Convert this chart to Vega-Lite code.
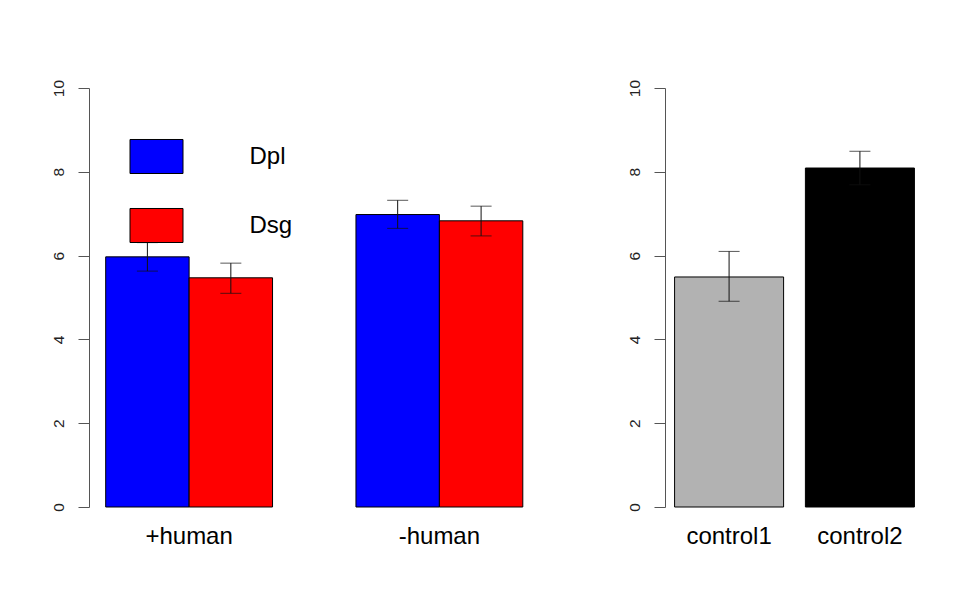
{
  "$schema": "https://vega.github.io/schema/vega-lite/v6.json",
  "background": "white",
  "padding": {"left": 51, "top": 79, "right": 10, "bottom": 10},
  "config": {
    "view": {"stroke": null},
    "font": "Liberation Sans",
    "axis": {"grid": false}
  },
  "spacing": 87,
  "resolve": {"scale": {"color": "independent", "x": "independent", "xOffset": "independent"}},
  "hconcat": [
    {
      "width": 450.5,
      "height": 419,
      "data": {"values": [
        {"group": "+human", "series": "Dpl", "mean": 5.97, "lo": 5.63, "hi": 6.31},
        {"group": "+human", "series": "Dsg", "mean": 5.47, "lo": 5.1, "hi": 5.82},
        {"group": "-human", "series": "Dpl", "mean": 6.98, "lo": 6.65, "hi": 7.32},
        {"group": "-human", "series": "Dsg", "mean": 6.83, "lo": 6.47, "hi": 7.18}
      ]},
      "encoding": {
        "x": {"field": "group", "type": "nominal", "sort": ["+human", "-human"],
          "scale": {"paddingInner": 0.3333, "paddingOuter": 0.0667},
          "axis": {"title": null, "labelAngle": 0, "domain": false, "ticks": false, "labelFontSize": 24, "labelColor": "black", "labelPadding": 17}},
        "xOffset": {"field": "series", "type": "nominal", "sort": ["Dpl", "Dsg"]}
      },
      "layer": [
        {
          "mark": {"type": "bar", "stroke": "black", "strokeWidth": 1},
          "encoding": {
            "y": {"field": "mean", "type": "quantitative", "scale": {"domain": [0, 10]},
              "axis": {"title": null, "values": [0, 2, 4, 6, 8, 10], "tickSize": 11, "tickColor": "#555", "domainColor": "#555",
                "labelAngle": -90, "labelAlign": "center", "labelBaseline": "bottom", "labelPadding": 12, "labelFontSize": 15.5, "labelColor": "#222"}},
            "color": {"field": "series", "type": "nominal", "sort": ["Dpl", "Dsg"],
              "scale": {"range": ["#0000ff", "#ff0000"]},
              "legend": {"title": null, "orient": "none", "legendX": 40.5, "legendY": 41.5,
                "symbolType": "M-1,-0.642H1V0.642H-1Z", "symbolSize": 2809,
                "symbolStrokeColor": "black", "symbolStrokeWidth": 1, "symbolOpacity": 1,
                "labelFontSize": 24, "labelColor": "black", "labelOffset": 66, "rowPadding": 22}}
          }
        },
        {
          "mark": {"type": "rule", "color": "#111", "strokeWidth": 1},
          "encoding": {
            "y": {"field": "lo", "type": "quantitative"},
            "y2": {"field": "hi"}
          }
        },
        {
          "mark": {"type": "tick", "color": "#111", "size": 21, "thickness": 1},
          "encoding": {"y": {"field": "lo", "type": "quantitative"}}
        },
        {
          "mark": {"type": "tick", "color": "#111", "size": 21, "thickness": 1},
          "encoding": {"y": {"field": "hi", "type": "quantitative"}}
        }
      ]
    },
    {
      "width": 259,
      "height": 419,
      "data": {"values": [
        {"name": "control1", "mean": 5.49, "lo": 4.91, "hi": 6.1},
        {"name": "control2", "mean": 8.09, "lo": 7.69, "hi": 8.49}
      ]},
      "encoding": {
        "x": {"field": "name", "type": "nominal", "sort": ["control1", "control2"],
          "scale": {"paddingInner": 0.1667, "paddingOuter": 0.0733},
          "axis": {"title": null, "labelAngle": 0, "domain": false, "ticks": false, "labelFontSize": 24, "labelColor": "black", "labelPadding": 17}}
      },
      "layer": [
        {
          "mark": {"type": "bar", "stroke": "black", "strokeWidth": 1},
          "encoding": {
            "y": {"field": "mean", "type": "quantitative", "scale": {"domain": [0, 10]},
              "axis": {"title": null, "values": [0, 2, 4, 6, 8, 10], "tickSize": 11, "tickColor": "#555", "domainColor": "#555",
                "labelAngle": -90, "labelAlign": "center", "labelBaseline": "bottom", "labelPadding": 12, "labelFontSize": 15.5, "labelColor": "#222"}},
            "color": {"field": "name", "type": "nominal", "sort": ["control1", "control2"],
              "scale": {"range": ["#b2b2b2", "#000000"]}, "legend": null}
          }
        },
        {
          "mark": {"type": "rule", "color": "#111", "strokeWidth": 1},
          "encoding": {
            "y": {"field": "lo", "type": "quantitative"},
            "y2": {"field": "hi"}
          }
        },
        {
          "mark": {"type": "tick", "color": "#111", "size": 21, "thickness": 1},
          "encoding": {"y": {"field": "lo", "type": "quantitative"}}
        },
        {
          "mark": {"type": "tick", "color": "#111", "size": 21, "thickness": 1},
          "encoding": {"y": {"field": "hi", "type": "quantitative"}}
        }
      ]
    }
  ]
}
